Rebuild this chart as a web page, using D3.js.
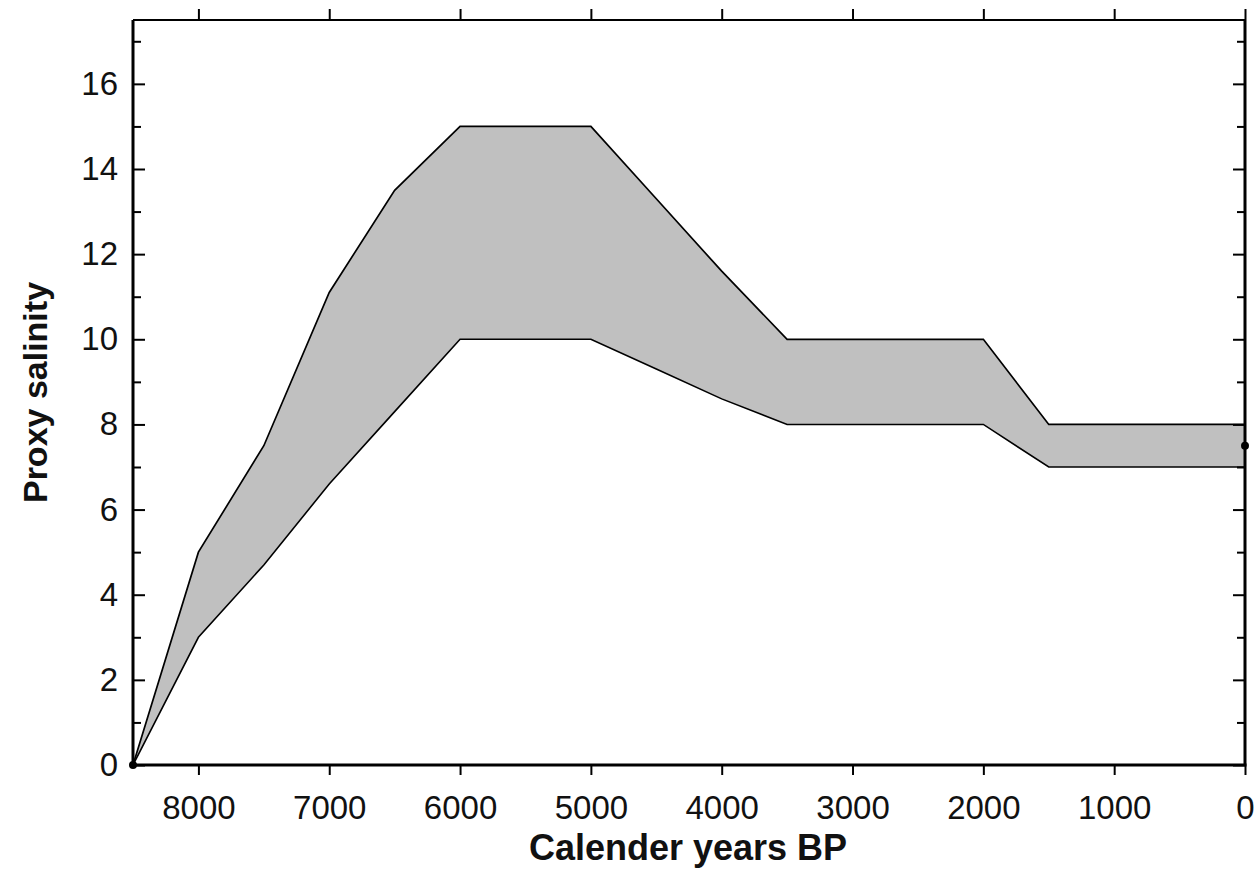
<!DOCTYPE html>
<html>
<head>
<meta charset="utf-8">
<script src="https://cdn.jsdelivr.net/npm/d3@7"></script>
<style>
  html, body { margin: 0; padding: 0; background: #fff; }
  svg { display: block; }
  text { font-family: "Liberation Sans", Arial, sans-serif; fill: #111; }
</style>
</head>
<body>
<svg id="chart" width="1255" height="877"></svg>
<script>
// Salinity envelope through the Holocene (calendar years BP)
const years      = [8500, 8000, 7500, 7000, 6500, 6000, 5000, 4500, 4000, 3500, 2000, 1500, 0];
const upperBound = [0,    5.0,  7.5,  11.1, 13.5, 15,   15,   13.3, 11.6, 10,   10,   8,    8];
const lowerBound = [0,    3.0,  4.7,  6.6,  8.3,  10,   10,   9.3,  8.6,  8,    8,    7,    7];

// single fixed points at the ends of the record
const markerYears  = [8500, 0];
const markerValues = [0, 7.5];

const xTicks      = [8000, 7000, 6000, 5000, 4000, 3000, 2000, 1000, 0];
const yMajorTicks = [0, 2, 4, 6, 8, 10, 12, 14, 16];
const yMinorTicks = [1, 3, 5, 7, 9, 11, 13, 15, 17];

const plotL = 133, plotR = 1245, plotT = 20, plotB = 765;

const svg = d3.select("#chart");

const x = d3.scaleLinear().domain([8500, 0]).range([plotL, plotR]);
const y = d3.scaleLinear().domain([0, 17.5]).range([plotB, plotT]);

const band = years.map((yr, i) => ({ yr, hi: upperBound[i], lo: lowerBound[i] }));

// shaded envelope
svg.append("path")
  .datum(band)
  .attr("fill", "#c0c0c0")
  .attr("stroke", "none")
  .attr("d", d3.area().x(d => x(d.yr)).y0(d => y(d.lo)).y1(d => y(d.hi)));

// envelope outlines
const edge = key => d3.line().x(d => x(d.yr)).y(d => y(d[key]));
svg.append("path").datum(band)
  .attr("fill", "none").attr("stroke", "#000").attr("stroke-width", 1.7)
  .attr("d", edge("hi"));
svg.append("path").datum(band)
  .attr("fill", "none").attr("stroke", "#000").attr("stroke-width", 1.6)
  .attr("d", edge("lo"));

// axes
const axisStyle = g => {
  g.select(".domain").remove();
  g.selectAll(".tick line").attr("stroke", "#000").attr("stroke-width", 2);
};
const labelStyle = g => g.selectAll(".tick text")
  .style("font-family", "'Liberation Sans', Arial, sans-serif")
  .style("font-size", "33px").attr("fill", "#222");

// bottom axis with labels
svg.append("g")
  .attr("transform", `translate(0,${plotB})`)
  .call(d3.axisBottom(x).tickValues(xTicks).tickSize(10).tickPadding(21).tickFormat(d3.format("d")))
  .call(axisStyle)
  .call(labelStyle);

// top axis, ticks only
svg.append("g")
  .attr("transform", `translate(0,${plotT})`)
  .call(d3.axisTop(x).tickValues(xTicks).tickSize(11).tickFormat(""))
  .call(axisStyle);

// left axis: inward ticks, labels outside
svg.append("g")
  .attr("transform", `translate(${plotL},0)`)
  .call(d3.axisRight(y).tickValues(yMajorTicks).tickSize(12).tickFormat(""))
  .call(axisStyle);
svg.append("g")
  .attr("transform", `translate(${plotL},0)`)
  .call(d3.axisRight(y).tickValues(yMinorTicks).tickSize(8).tickFormat(""))
  .call(axisStyle);
svg.append("g")
  .attr("transform", `translate(${plotL},0)`)
  .call(d3.axisLeft(y).tickValues(yMajorTicks).tickSize(0).tickPadding(15).tickFormat(d3.format("d")))
  .call(g => g.select(".domain").remove())
  .call(labelStyle);

// right axis: ticks pointing inward
svg.append("g")
  .attr("transform", `translate(${plotR},0)`)
  .call(d3.axisLeft(y).tickValues(yMajorTicks).tickSize(12).tickFormat(""))
  .call(axisStyle);
svg.append("g")
  .attr("transform", `translate(${plotR},0)`)
  .call(d3.axisLeft(y).tickValues(yMinorTicks).tickSize(8).tickFormat(""))
  .call(axisStyle);

// frame
svg.append("line").attr("x1", plotL).attr("x2", plotR).attr("y1", plotT).attr("y2", plotT)
  .attr("stroke", "#000").attr("stroke-width", 2);
svg.append("line").attr("x1", plotL - 1.5).attr("x2", plotR + 1.5).attr("y1", plotB).attr("y2", plotB)
  .attr("stroke", "#000").attr("stroke-width", 3);
svg.append("line").attr("x1", plotL).attr("x2", plotL).attr("y1", plotT).attr("y2", plotB)
  .attr("stroke", "#000").attr("stroke-width", 3);
svg.append("line").attr("x1", plotR).attr("x2", plotR).attr("y1", plotT).attr("y2", plotB)
  .attr("stroke", "#000").attr("stroke-width", 3);

// end markers
svg.selectAll("circle.marker")
  .data(markerYears.map((yr, i) => ({ yr, v: markerValues[i] })))
  .join("circle")
  .attr("class", "marker")
  .attr("cx", d => x(d.yr)).attr("cy", d => y(d.v))
  .attr("r", 4).attr("fill", "#000");

// axis titles
svg.append("text")
  .attr("x", 688).attr("y", 860)
  .attr("text-anchor", "middle")
  .style("font-size", "36px").style("font-weight", "bold")
  .text("Calender years BP");

svg.append("text")
  .attr("transform", `translate(47,${(plotT + plotB) / 2}) rotate(-90)`)
  .attr("text-anchor", "middle")
  .style("font-size", "34px").style("font-weight", "bold")
  .text("Proxy salinity");
</script>
</body>
</html>
